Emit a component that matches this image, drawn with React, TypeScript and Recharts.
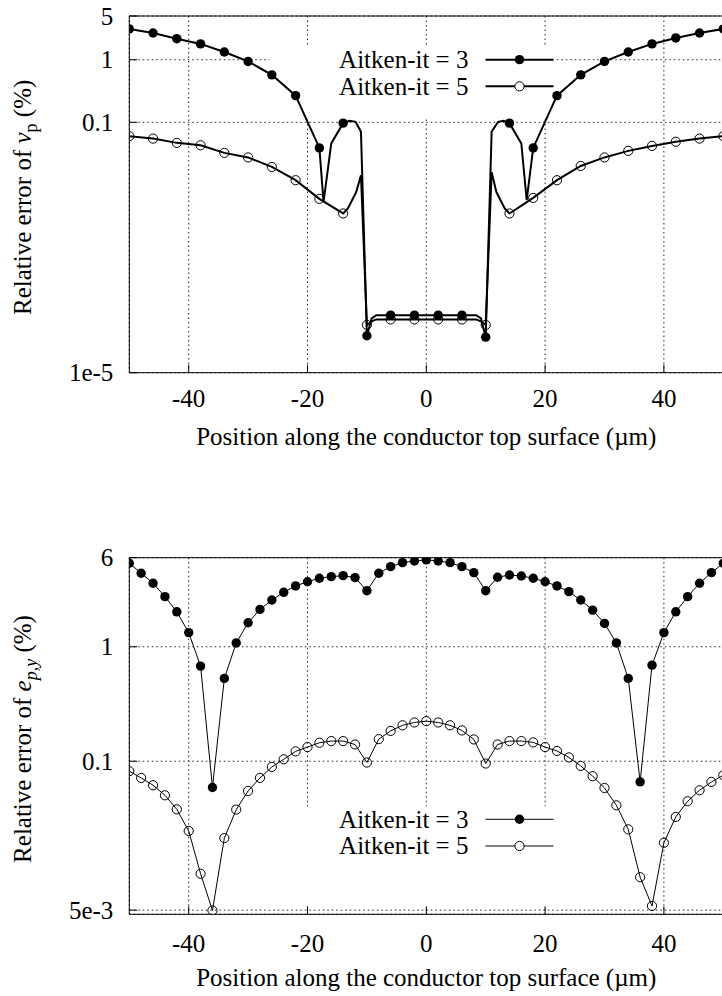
import {
  CartesianGrid,
  ComposedChart,
  Label,
  Line,
  ReferenceArea,
  ReferenceLine,
  Scatter,
  XAxis,
  YAxis,
} from 'recharts'

const FONT = "'Liberation Serif', Tinos, 'Times New Roman', Times, 'Nimbus Roman', 'Noto Serif', 'DejaVu Serif', FreeSerif, serif"
const FS = 25

// shared x axis (µm)
const xTicks = [-40, -20, 0, 20, 40]

// ---- top panel: relative error of v_p ----
const vpPositions = [-50, -46, -42, -38, -34, -30, -26, -22, -18, -14, -10, -6, -2, 2, 6, 10, 14, 18, 22, 26, 30, 34, 38, 42, 46, 50]
const vpAitken3 = [3.11, 2.68, 2.17, 1.79, 1.33, 0.94, 0.574, 0.267, 0.039, 0.097, 3.9e-5, 8.3e-5, 8.3e-5, 8.3e-5, 8.3e-5, 3.7e-5, 0.097, 0.039, 0.267, 0.574, 0.94, 1.33, 1.79, 2.23, 2.68, 3.11]
const vpAitken5 = [0.06, 0.055, 0.047, 0.043, 0.0325, 0.0275, 0.0194, 0.0119, 0.006, 0.0035, 5.8e-5, 7.1e-5, 7.1e-5, 7.1e-5, 7.1e-5, 5.8e-5, 0.0035, 0.0062, 0.0119, 0.0201, 0.0275, 0.035, 0.042, 0.049, 0.055, 0.06]
// extra points along the traced curves, between markers
const vpAitken3CurveX = [-17.3, -16, -12.9, -11.9, -11, -9.2, -8.4, 8.4, 9.2, 11, 12.1, 13, 16, 16.9]
const vpAitken3CurveY = [0.0053, 0.046, 0.106, 0.102, 0.071, 7.4e-5, 8.3e-5, 8.3e-5, 7.4e-5, 0.071, 0.102, 0.106, 0.046, 0.0057]
const vpAitken5CurveX = [-13.2, -11.8, -11, -9.2, -8.4, 8.4, 9.2, 11, 11.8, 13.2]
const vpAitken5CurveY = [0.0042, 0.0077, 0.0143, 6.6e-5, 7.1e-5, 7.1e-5, 6.6e-5, 0.016, 0.0077, 0.0042]
const vpYTicks = [1e-5, 0.1, 1, 5]
const vpYTickText = ['1e-5', '0.1', '1', '5']

// ---- bottom panel: relative error of e_p,y ----
const epyPositions = [-50, -48, -46, -44, -42, -40, -38, -36, -34, -32, -30, -28, -26, -24, -22, -20, -18, -16, -14, -12, -10, -8, -6, -4, -2, 0, 2, 4, 6, 8, 10, 12, 14, 16, 18, 20, 22, 24, 26, 28, 30, 32, 34, 36, 38, 40, 42, 44, 46, 48, 50]
const epyAitken3 = [5.37, 4.39, 3.59, 2.74, 2.02, 1.33, 0.678, 0.059, 0.529, 1.08, 1.62, 2.12, 2.56, 2.99, 3.4, 3.7, 3.97, 4.1, 4.18, 4.02, 3.09, 4.39, 5.01, 5.43, 5.62, 5.74, 5.62, 5.43, 5.01, 4.44, 3.09, 4.05, 4.24, 4.15, 3.97, 3.7, 3.4, 3.03, 2.56, 2.09, 1.6, 1.08, 0.529, 0.066, 0.691, 1.33, 2.02, 2.74, 3.59, 4.44, 5.37]
const epyAitken5 = [0.0818, 0.0715, 0.0617, 0.0504, 0.038, 0.0246, 0.0104, 0.00497, 0.0213, 0.0378, 0.055, 0.0715, 0.0892, 0.104, 0.122, 0.133, 0.145, 0.15, 0.15, 0.14, 0.0974, 0.156, 0.184, 0.206, 0.218, 0.224, 0.218, 0.206, 0.186, 0.155, 0.0955, 0.14, 0.15, 0.15, 0.146, 0.133, 0.123, 0.108, 0.091, 0.074, 0.0584, 0.0412, 0.0254, 0.0097, 0.00544, 0.0194, 0.0326, 0.0447, 0.0557, 0.0659, 0.0755]
const epyYTicks = [5e-3, 0.1, 1, 6]
const epyYTickText = ['5e-3', '0.1', '1', '6']

interface Pt {
  x: number
  y: number
}

const toPts = (xs: number[], ys: number[]): Pt[] => xs.map((x, i) => ({ x, y: ys[i] }))
const merged = (a: Pt[], b: Pt[]) => [...a, ...b].sort((p, q) => p.x - q.x)

// layout
const CHART_W = 760
const PLOT_LEFT = 129.3
const PLOT_RIGHT = 723.3
const KEY_X: [number, number] = [-26.4, 21.4]
const txt = { fontFamily: FONT, fontSize: FS }

const FilledDot = (p: any) => <circle cx={p.cx} cy={p.cy} r={4.7} fill="#000" />
const OpenDot = (p: any) => <circle cx={p.cx} cy={p.cy} r={4.6} fill="none" stroke="#000" strokeWidth={1} />

const XTick = (props: any) => {
  const { x, y, payload, labelDrop } = props
  return (
    <g>
      <line x1={x} x2={x} y1={y} y2={y - 8} stroke="#000" />
      <text x={x} y={y + labelDrop} textAnchor="middle" style={txt} fill="#000">
        {payload.value}
      </text>
    </g>
  )
}

const YTick = (props: any) => {
  const { x, y, payload, ticks, texts } = props
  const i = ticks.indexOf(payload.value)
  return (
    <g>
      <line x1={x} x2={x + 8} y1={y} y2={y} stroke="#000" />
      <text x={x - 16} y={y + 8.5} textAnchor="end" style={txt} fill="#000">
        {texts[i]}
      </text>
    </g>
  )
}

const XTitle = (props: any) => {
  const { viewBox } = props
  return (
    <text x={viewBox.x + viewBox.width / 2} y={viewBox.y + 72} textAnchor="middle" style={txt} fill="#000">
      Position along the conductor top surface (µm)
    </text>
  )
}

const YTitle = (props: any) => {
  const { viewBox, kind } = props
  const cx = 31
  const cy = viewBox.y + viewBox.height / 2 + 3
  return (
    <text x={cx} y={cy} transform={`rotate(-90 ${cx} ${cy})`} textAnchor="middle" style={txt} fill="#000">
      Relative error of{' '}
      {kind === 'vp' ? (
        <>
          <tspan fontStyle="italic">ν</tspan>
          <tspan dy={6} style={{ fontSize: 18 }}>p</tspan>
        </>
      ) : (
        <>
          <tspan fontStyle="italic">e</tspan>
          <tspan dy={6} style={{ fontSize: 18 }} fontStyle="italic">p,y</tspan>
        </>
      )}
      <tspan dy={-6}> (%)</tspan>
    </text>
  )
}

const KeyLabel = (props: any) => {
  const { viewBox, lineWidth } = props
  const { x, y } = viewBox
  const rows = [
    { text: 'Aitken-it = 3', filled: true, dy: 13 },
    { text: 'Aitken-it = 5', filled: false, dy: 39.7 },
  ]
  return (
    <g>
      {rows.map((r) => (
        <g key={r.text}>
          <text x={x + 199} y={y + r.dy + 8.5} textAnchor="end" style={txt} fill="#000">
            {r.text}
          </text>
          <line x1={x + 216} x2={x + 284} y1={y + r.dy} y2={y + r.dy} stroke="#000" strokeWidth={lineWidth} />
          {r.filled ? (
            <circle cx={x + 250} cy={y + r.dy} r={4.7} fill="#000" />
          ) : (
            <circle cx={x + 250} cy={y + r.dy} r={4.6} fill="#fff" stroke="#000" />
          )}
        </g>
      ))}
    </g>
  )
}

interface PanelProps {
  top: number
  height: number
  marginTop: number
  marginBottom: number
  yDomain: [number, number]
  yTicks: number[]
  yTickText: string[]
  filledMarks: Pt[]
  filledLine: Pt[]
  openMarks: Pt[]
  openLine: Pt[]
  lineWidth: number
  keyY: [number, number]
  kind: 'vp' | 'epy'
  tickDrop: number
}

const Panel = (p: PanelProps) => (
  <div style={{ position: 'absolute', left: 0, top: p.top }}>
    <ComposedChart
      width={CHART_W}
      height={p.height}
      margin={{ top: p.marginTop, right: CHART_W - PLOT_RIGHT, bottom: p.marginBottom, left: 0 }}
    >
      <CartesianGrid stroke="#222" strokeDasharray="1.5 3" />
      <ReferenceArea
        x1={KEY_X[0]}
        x2={KEY_X[1]}
        y1={p.keyY[0]}
        y2={p.keyY[1]}
        fill="#fff"
        fillOpacity={1}
        stroke="none"
        label={<KeyLabel lineWidth={p.lineWidth} />}
      />
      <XAxis
        type="number"
        dataKey="x"
        domain={[-50, 50]}
        ticks={xTicks}
        allowDataOverflow
        height={60}
        tickSize={0}
        tickMargin={0}
        tickLine={false}
        axisLine={{ stroke: '#000' }}
        tick={<XTick labelDrop={p.tickDrop} />}
      >
        <Label content={<XTitle />} />
      </XAxis>
      <YAxis
        type="number"
        dataKey="y"
        scale="log"
        domain={p.yDomain}
        ticks={p.yTicks}
        allowDataOverflow
        width={PLOT_LEFT}
        tickSize={0}
        tickMargin={0}
        tickLine={false}
        axisLine={{ stroke: '#000' }}
        tick={<YTick ticks={p.yTicks} texts={p.yTickText} />}
      >
        <Label content={<YTitle kind={p.kind} />} />
      </YAxis>
      <ReferenceLine y={p.yDomain[1]} stroke="#000" />
      <ReferenceLine x={50} stroke="#000" />
      <Line
        data={p.filledLine}
        dataKey="y"
        type="linear"
        stroke="#000"
        strokeWidth={p.lineWidth}
        dot={false}
        isAnimationActive={false}
      />
      <Line
        data={p.openLine}
        dataKey="y"
        type="linear"
        stroke="#000"
        strokeWidth={p.lineWidth}
        dot={false}
        isAnimationActive={false}
      />
      <Scatter data={p.filledMarks} dataKey="y" shape={FilledDot} isAnimationActive={false} />
      <Scatter data={p.openMarks} dataKey="y" shape={OpenDot} isAnimationActive={false} />
    </ComposedChart>
  </div>
)

export default function App() {
  const vp3 = toPts(vpPositions, vpAitken3)
  const vp5 = toPts(vpPositions, vpAitken5)
  const epy3 = toPts(epyPositions, epyAitken3)
  const epy5 = toPts(epyPositions, epyAitken5)

  return (
    <div style={{ position: 'absolute', left: 0, top: 0, width: 722, height: 996, overflow: 'hidden', background: '#fff' }}>
      <Panel
        top={0}
        height={460}
        marginTop={16}
        marginBottom={27.3}
        yDomain={[1e-5, 5]}
        yTicks={vpYTicks}
        yTickText={vpYTickText}
        filledMarks={vp3}
        filledLine={merged(vp3, toPts(vpAitken3CurveX, vpAitken3CurveY))}
        openMarks={vp5}
        openLine={merged(vp5, toPts(vpAitken5CurveX, vpAitken5CurveY))}
        lineWidth={2}
        keyY={[0.117, 1.62]}
        kind="vp"
        tickDrop={34}
      />
      <Panel
        top={500}
        height={496}
        marginTop={57.7}
        marginBottom={21.7}
        yDomain={[0.0046, 6]}
        yTicks={epyYTicks}
        yTickText={epyYTickText}
        filledMarks={epy3}
        filledLine={epy3}
        openMarks={epy5}
        openLine={epy5}
        lineWidth={1}
        keyY={[0.0054, 0.0404]}
        kind="epy"
        tickDrop={38}
      />
    </div>
  )
}
